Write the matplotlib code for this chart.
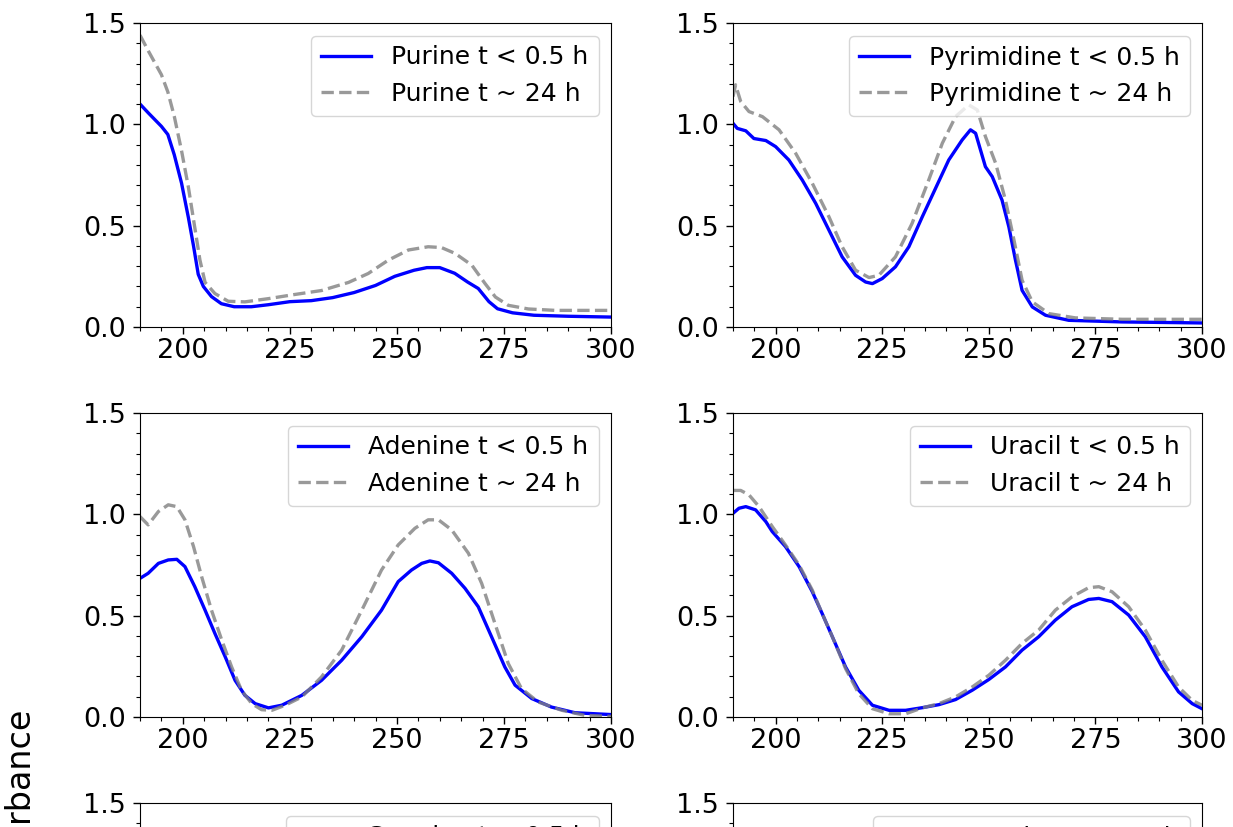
import numpy as np
import matplotlib
matplotlib.use('Agg')
import matplotlib.pyplot as plt
from matplotlib.ticker import MultipleLocator

# Valores (longitud de onda en nm, absorbancia)
# Purina
pur_x1 = [190, 192, 195, 196.5, 198, 199.7, 201.3, 202.5, 203.6, 204.8, 206.7, 209, 212, 216, 220,
          225, 230, 235, 240, 245, 249.5, 254, 257, 260, 263.5, 266.5, 269, 271.5, 273.5, 277, 282, 290, 300]
pur_y1 = [1.10, 1.055, 0.99, 0.95, 0.85, 0.71, 0.54, 0.40, 0.26, 0.20, 0.15, 0.115, 0.10, 0.10, 0.11,
          0.125, 0.13, 0.145, 0.17, 0.205, 0.25, 0.28, 0.293, 0.293, 0.265, 0.222, 0.19, 0.125, 0.09, 0.07, 0.058, 0.053, 0.049]
pur_x2 = [190, 192, 195, 196.5, 198, 199.7, 201.3, 202.8, 204, 205.2, 207.5, 210.6, 214.5, 220, 226,
          232.4, 238.7, 243.3, 248, 252.7, 257.3, 260.4, 263.6, 267.5, 270.6, 273, 276, 280.7, 287, 300]
pur_y2 = [1.44, 1.36, 1.245, 1.16, 1.04, 0.87, 0.69, 0.49, 0.33, 0.22, 0.165, 0.127, 0.124, 0.14, 0.16,
          0.18, 0.22, 0.264, 0.33, 0.38, 0.396, 0.392, 0.363, 0.305, 0.214, 0.148, 0.107, 0.089, 0.082, 0.082]

# Pirimidina
pyr_x1 = [190, 191, 193, 194.9, 197.7, 200, 203.1, 206.25, 209.4, 212.5, 215.6, 218.75, 221.1, 222.7, 225,
          228.1, 231.25, 234.4, 237.5, 240.6, 243.75, 245.7, 246.9, 249.2, 250.8, 253.1, 254.7, 256.25, 257.8,
          260.2, 263.3, 268.75, 281.25, 300]
pyr_y1 = [1.005, 0.98, 0.968, 0.93, 0.92, 0.89, 0.824, 0.725, 0.61, 0.478, 0.346, 0.255, 0.222, 0.214, 0.239,
          0.297, 0.396, 0.544, 0.684, 0.824, 0.923, 0.973, 0.956, 0.791, 0.742, 0.626, 0.494, 0.33, 0.181,
          0.099, 0.058, 0.033, 0.025, 0.02]
pyr_x2 = [190, 190.6, 191.8, 193.75, 196.9, 200.8, 204.7, 208.6, 212.5, 215.6, 218.75, 221.9, 224.2, 228.1,
          232, 235.9, 239.1, 242.2, 245.3, 247.3, 249.2, 251.6, 253.9, 255.9, 257.8, 260.2, 264.1, 270.3, 281.25, 300]
pyr_y2 = [1.137, 1.195, 1.113, 1.063, 1.038, 0.973, 0.857, 0.709, 0.544, 0.396, 0.28, 0.244, 0.255, 0.346,
          0.511, 0.725, 0.907, 1.038, 1.096, 1.071, 0.94, 0.808, 0.626, 0.429, 0.231, 0.124, 0.066, 0.045, 0.038, 0.038]

# Adenina
ade_x1 = [190, 191.9, 194.3, 196.6, 198.6, 200.5, 202.8, 205.2, 207.5, 209.9, 212.2, 214.5, 216.9, 220, 223.1,
          227.8, 232.4, 237.1, 241.8, 246.4, 250.3, 253.4, 255.8, 257.7, 259.7, 262.8, 265.9, 269, 272.1, 275.2,
          277.6, 281.5, 286.1, 291.6, 300]
ade_y1 = [0.684, 0.709, 0.758, 0.775, 0.778, 0.742, 0.643, 0.527, 0.412, 0.297, 0.181, 0.107, 0.066, 0.045, 0.058,
          0.107, 0.181, 0.28, 0.396, 0.527, 0.668, 0.725, 0.758, 0.77, 0.761, 0.709, 0.635, 0.544, 0.396, 0.247,
          0.157, 0.091, 0.049, 0.021, 0.012]
ade_x2 = [190, 191.9, 194.3, 196.6, 198.6, 200.5, 202.5, 204.4, 206.7, 209.1, 211.4, 213.7, 216.1, 218.4, 220.8,
          223.9, 227.8, 232.4, 237.1, 241.8, 246.4, 250.3, 254.2, 257.3, 259.7, 262.8, 266.7, 269.8, 272.9, 276,
          279.1, 283, 288.5, 293.9, 300]
ade_y2 = [0.989, 0.948, 1.014, 1.047, 1.038, 0.973, 0.841, 0.692, 0.527, 0.379, 0.247, 0.132, 0.066, 0.036, 0.033,
          0.058, 0.099, 0.198, 0.33, 0.527, 0.725, 0.849, 0.931, 0.973, 0.973, 0.923, 0.808, 0.659, 0.461, 0.264,
          0.14, 0.074, 0.033, 0.008, 0.003]

# Uracilo
ura_x1 = [190, 191.4, 193, 195.3, 197.7, 199.2, 202.3, 205.5, 208.6, 210.9, 213.3, 216.4, 219.5, 222.7, 226.6,
          230.5, 234.4, 238.3, 242.2, 246.1, 250, 253.9, 257.8, 261.7, 265.6, 269.5, 273.4, 275.8, 278.9, 282.8,
          286.7, 290.6, 294.5, 297.7, 300]
ura_y1 = [1.005, 1.03, 1.038, 1.022, 0.964, 0.915, 0.841, 0.742, 0.618, 0.511, 0.396, 0.247, 0.132, 0.058, 0.033,
          0.033, 0.046, 0.061, 0.086, 0.132, 0.185, 0.247, 0.33, 0.396, 0.478, 0.544, 0.58, 0.585, 0.569, 0.503,
          0.396, 0.247, 0.124, 0.066, 0.041]
ura_x2 = [190, 191.8, 193.75, 196.1, 199.2, 202.3, 205.5, 208.6, 210.9, 213.3, 216.4, 219.5, 222.7, 226.6,
          230.5, 234.4, 238.3, 242.2, 246.1, 250, 253.9, 257.8, 261.7, 265.6, 269.5, 273.4, 275.8, 278.9, 282.8,
          286.7, 290.6, 294.5, 297.7, 300]
ura_y2 = [1.118, 1.118, 1.096, 1.038, 0.94, 0.849, 0.75, 0.626, 0.511, 0.396, 0.239, 0.115, 0.041, 0.016,
          0.016, 0.045, 0.066, 0.099, 0.148, 0.206, 0.28, 0.363, 0.429, 0.527, 0.593, 0.638, 0.643, 0.618, 0.544,
          0.429, 0.28, 0.148, 0.082, 0.058]

nombres = ['Purine', 'Pyrimidine', 'Adenine', 'Uracil', 'Guanine', 'Cytosine']
series = [(pur_x1, pur_y1, pur_x2, pur_y2),
          (pyr_x1, pyr_y1, pyr_x2, pyr_y2),
          (ade_x1, ade_y1, ade_x2, ade_y2),
          (ura_x1, ura_y1, ura_x2, ura_y2),
          ([], [], [], []),
          ([], [], [], [])]

W, H = 1233, 827
fig = plt.figure(figsize=(W / 100, H / 100), dpi=100)

# posiciones de los ejes en pixeles (izquierda, arriba) - la tercera fila queda cortada
izq = [140, 733]
arriba = [23, 413, 803]
ancho = [471, 469]
alto = 304

for i, nombre in enumerate(nombres):
    fila, col = divmod(i, 2)
    ax = fig.add_axes([izq[col] / W, 1 - (arriba[fila] + alto) / H, ancho[col] / W, alto / H])
    x1, y1, x2, y2 = series[i]
    ax.plot(x1, y1, color='blue', lw=2.4, label=nombre + ' t < 0.5 h')
    ax.plot(x2, y2, color='grey', lw=2.4, ls='--', alpha=0.8, label=nombre + ' t ~ 24 h')
    ax.set_xlim(190, 300)
    ax.set_ylim(0, 1.5)
    ax.set_xticks([200, 225, 250, 275, 300])
    ax.set_yticks([0.0, 0.5, 1.0, 1.5])
    ax.xaxis.set_minor_locator(MultipleLocator(5))
    ax.yaxis.set_minor_locator(MultipleLocator(0.1))
    ax.tick_params(which='major', labelsize=19.5, length=5, width=1)
    ax.tick_params(which='minor', length=3, width=0.8)
    ax.tick_params(axis='y', which='major', pad=5)
    ax.tick_params(axis='x', which='major', pad=3)
    ax.legend(loc='upper right', fontsize=18)

fig.text(21 / W, 1 - 807 / H, 'Absorbance', rotation=90, ha='center', va='center', fontsize=24)

plt.savefig('out.png', dpi=100)
